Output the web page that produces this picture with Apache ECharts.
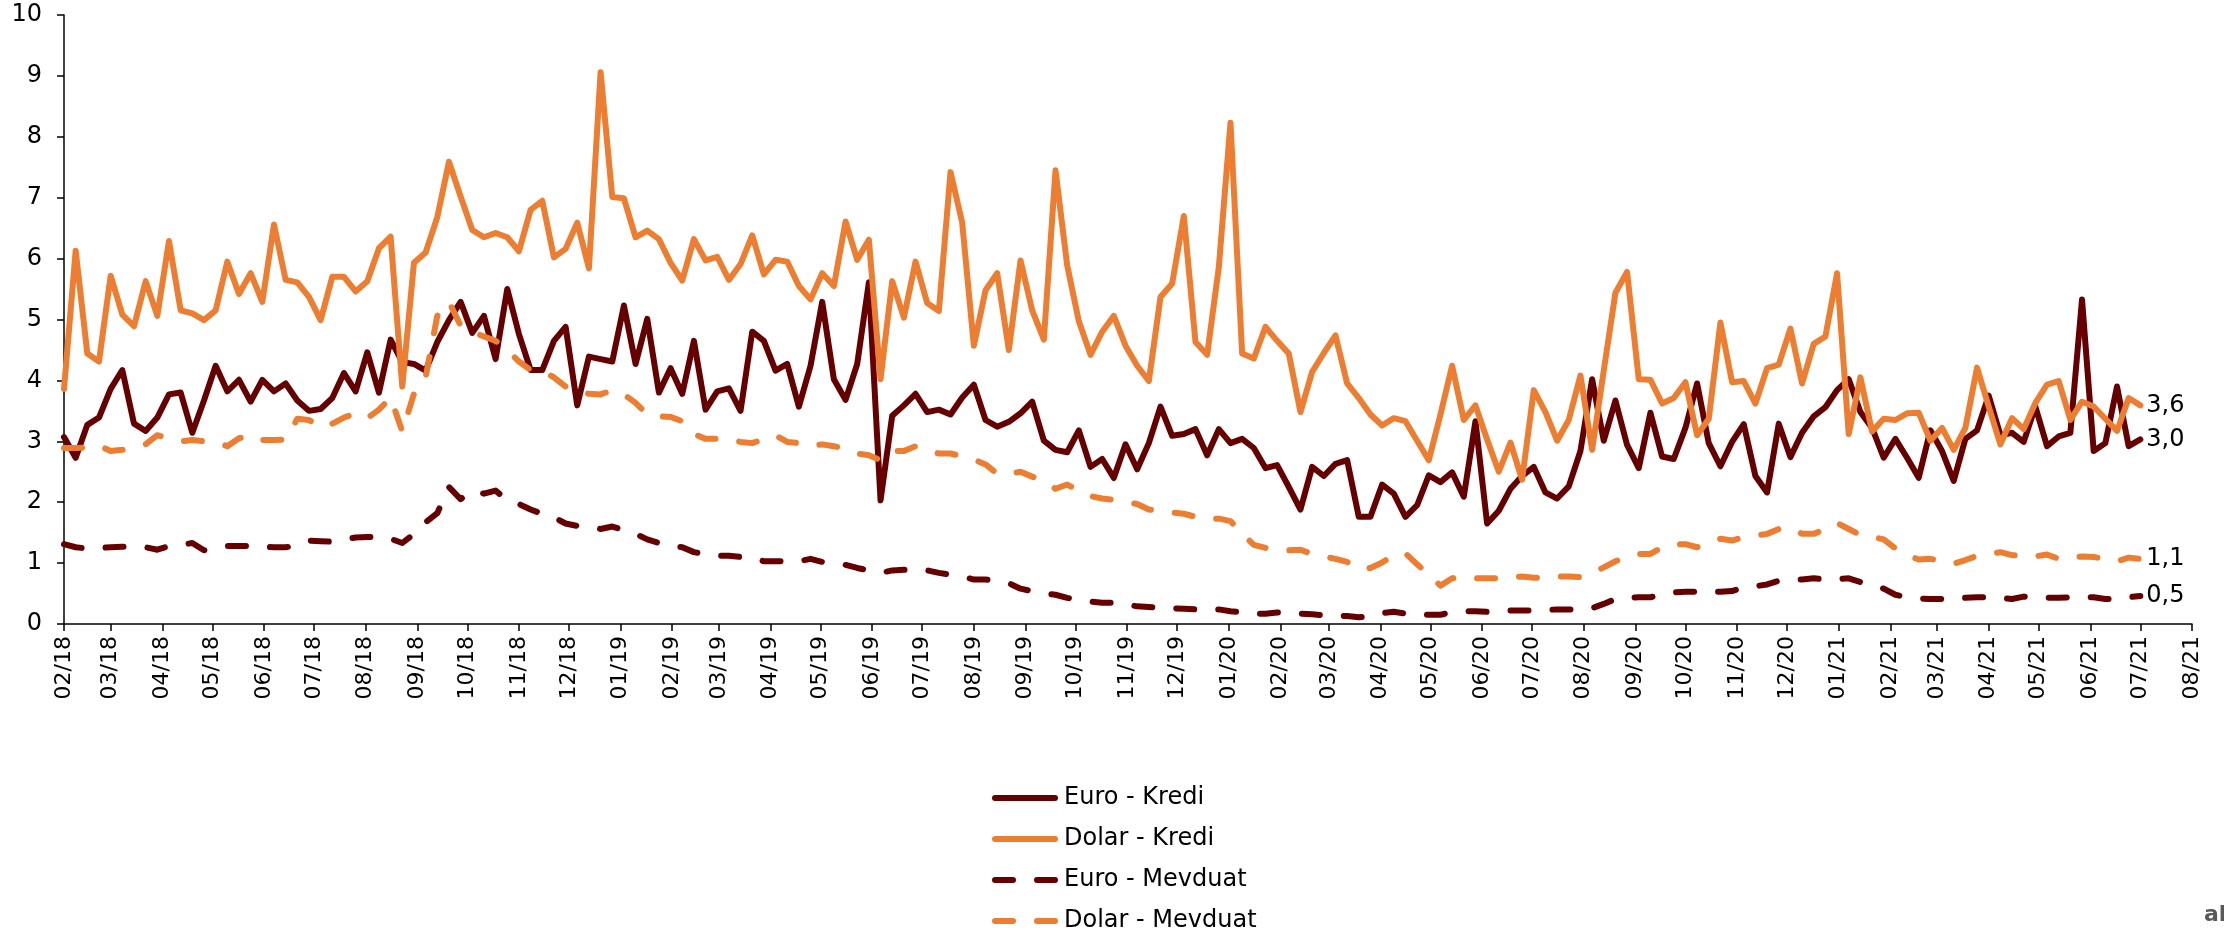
<!DOCTYPE html>
<html>
<head>
<meta charset="utf-8">
<script src="https://cdn.jsdelivr.net/npm/echarts@6/dist/echarts.min.js"></script>
<style>
html,body{margin:0;padding:0;background:#fff;}
#chart{width:2224px;height:932px;}
</style>
</head>
<body>
<div id="chart"></div>
<script>
// Weekly observations, first week 2018-02-01
const firstWeek = [2018, 1, 1];
const seriesNames = ['Euro - Kredi', 'Dolar - Kredi', 'Euro - Mevduat', 'Dolar - Mevduat'];

const euroKredi = [
3.07,2.73,3.27,3.39,3.86,4.17,3.29,3.17,3.39,3.77,3.80,3.14,3.67,4.24,3.82,4.01,3.65,4.01,3.82,3.95,
3.67,3.50,3.53,3.71,4.12,3.82,4.46,3.80,4.67,4.30,4.27,4.16,4.63,4.99,5.29,4.78,5.06,4.35,5.50,4.76,
4.17,4.17,4.65,4.88,3.59,4.39,4.35,4.31,5.23,4.27,5.01,3.80,4.20,3.78,4.65,3.52,3.82,3.87,3.50,4.80,
4.65,4.16,4.27,3.57,4.24,5.29,4.02,3.68,4.27,5.61,2.03,3.42,3.59,3.78,3.48,3.52,3.44,3.72,3.93,3.35,
3.24,3.32,3.46,3.65,3.01,2.86,2.82,3.18,2.58,2.71,2.40,2.95,2.54,2.97,3.57,3.09,3.12,3.20,2.77,3.20,
2.97,3.04,2.89,2.56,2.61,2.25,1.88,2.58,2.43,2.63,2.69,1.76,1.76,2.29,2.14,1.76,1.95,2.44,2.33,2.49,
2.09,3.33,1.65,1.86,2.22,2.43,2.58,2.16,2.06,2.26,2.84,4.02,3.01,3.67,2.94,2.56,3.47,2.75,2.71,3.22,
3.95,2.97,2.59,2.99,3.28,2.43,2.16,3.29,2.74,3.14,3.41,3.56,3.84,4.02,3.48,3.22,2.73,3.04,2.73,2.40,
3.18,2.84,2.35,3.04,3.18,3.75,3.10,3.14,2.99,3.57,2.92,3.08,3.14,5.33,2.84,2.97,3.90,2.92,3.03
];

const dolarKredi = [
3.86,6.13,4.44,4.31,5.72,5.08,4.89,5.63,5.06,6.29,5.15,5.10,4.99,5.15,5.95,5.42,5.76,5.29,6.56,5.65,
5.61,5.37,4.99,5.70,5.70,5.46,5.63,6.17,6.36,3.90,5.93,6.10,6.68,7.59,7.02,6.47,6.35,6.42,6.35,6.12,
6.80,6.95,6.02,6.16,6.59,5.84,9.06,7.01,6.99,6.35,6.46,6.32,5.93,5.64,6.32,5.97,6.03,5.65,5.91,6.38,
5.74,5.98,5.95,5.55,5.33,5.76,5.55,6.61,5.98,6.31,4.02,5.63,5.03,5.95,5.27,5.14,7.42,6.59,4.57,5.48,
5.76,4.50,5.97,5.15,4.67,7.45,5.89,4.97,4.42,4.80,5.06,4.57,4.24,3.99,5.37,5.59,6.70,4.63,4.42,5.86,
8.23,4.44,4.36,4.88,4.65,4.44,3.48,4.14,4.45,4.74,3.95,3.71,3.44,3.26,3.38,3.33,3.01,2.69,3.44,4.24,
3.35,3.59,3.03,2.50,2.98,2.37,3.84,3.48,3.01,3.35,4.08,2.86,4.16,5.44,5.78,4.02,4.01,3.62,3.71,3.97,
3.10,3.37,4.95,3.97,3.99,3.62,4.20,4.26,4.85,3.95,4.60,4.72,5.76,3.12,4.05,3.16,3.37,3.35,3.46,3.47,
3.01,3.22,2.86,3.22,4.21,3.57,2.95,3.38,3.20,3.63,3.93,3.99,3.35,3.65,3.57,3.37,3.17,3.71,3.59
];

const euroMevduat = [
1.31,1.26,1.24,1.25,1.26,1.27,1.27,1.26,1.22,1.28,1.30,1.33,1.21,1.25,1.28,1.28,1.28,1.27,1.26,1.26,
1.29,1.37,1.36,1.35,1.39,1.42,1.43,1.43,1.40,1.33,1.48,1.67,1.82,2.25,2.05,2.19,2.14,2.19,2.03,1.97,
1.88,1.81,1.75,1.65,1.61,1.60,1.56,1.60,1.54,1.48,1.39,1.33,1.28,1.26,1.18,1.15,1.12,1.12,1.10,1.09,
1.03,1.03,1.03,1.03,1.07,1.02,0.99,0.97,0.92,0.88,0.84,0.88,0.89,0.90,0.88,0.84,0.81,0.78,0.73,0.73,
0.71,0.67,0.58,0.54,0.50,0.48,0.43,0.39,0.37,0.35,0.35,0.32,0.29,0.28,0.27,0.26,0.25,0.24,0.24,0.24,
0.21,0.19,0.17,0.17,0.19,0.17,0.17,0.16,0.14,0.14,0.13,0.11,0.13,0.18,0.20,0.17,0.15,0.15,0.15,0.20,
0.21,0.21,0.20,0.20,0.22,0.22,0.22,0.23,0.24,0.24,0.24,0.26,0.33,0.41,0.43,0.44,0.44,0.48,0.52,0.53,
0.53,0.53,0.53,0.54,0.60,0.62,0.65,0.71,0.73,0.73,0.75,0.73,0.74,0.75,0.69,0.63,0.58,0.48,0.44,0.42,
0.41,0.41,0.41,0.43,0.44,0.44,0.43,0.41,0.45,0.44,0.43,0.43,0.44,0.44,0.44,0.41,0.41,0.44,0.46
];

const dolarMevduat = [
2.89,2.89,2.90,2.93,2.84,2.86,2.90,2.95,3.10,3.05,3.00,3.02,3.00,2.99,2.92,3.05,3.10,3.02,3.02,3.03,
3.37,3.35,3.23,3.29,3.39,3.46,3.38,3.52,3.72,3.16,3.78,4.05,5.06,5.29,4.90,4.80,4.72,4.65,4.50,4.31,
4.17,4.16,4.05,3.90,3.82,3.78,3.77,3.84,3.77,3.63,3.44,3.41,3.40,3.33,3.12,3.04,3.04,3.04,2.99,2.97,
3.04,3.10,2.99,2.97,2.92,2.95,2.92,2.88,2.80,2.77,2.69,2.84,2.84,2.92,2.85,2.80,2.80,2.75,2.70,2.62,
2.47,2.47,2.50,2.42,2.35,2.22,2.29,2.19,2.10,2.06,2.04,2.00,1.97,1.88,1.86,1.83,1.81,1.76,1.73,1.73,
1.69,1.48,1.30,1.25,1.22,1.21,1.22,1.15,1.11,1.07,1.02,0.90,0.92,1.01,1.13,1.16,0.98,0.81,0.63,0.75,
0.78,0.75,0.75,0.75,0.77,0.78,0.76,0.76,0.78,0.78,0.77,0.84,0.93,1.03,1.11,1.15,1.15,1.26,1.31,1.31,
1.26,1.33,1.40,1.37,1.43,1.45,1.48,1.56,1.58,1.48,1.48,1.56,1.66,1.56,1.46,1.43,1.39,1.24,1.13,1.06,
1.07,1.03,0.99,1.05,1.12,1.15,1.18,1.13,1.12,1.11,1.14,1.07,1.09,1.11,1.10,1.07,1.03,1.09,1.07
];

const yTicks = {min: 0, max: 10, interval: 1};
const xRange = {from: [2018, 1, 1], to: [2021, 7, 1]};

const FONT = 'DejaVu Sans';
const DARK = '#660000';
const ORANGE = '#ED7D31';

function weekDate(i) {
  return new Date(firstWeek[0], firstWeek[1], firstWeek[2] + 7 * i).getTime();
}
function pairs(arr) { return arr.map((v, i) => [weekDate(i), v]); }
function pad(n) { return (n < 10 ? '0' : '') + n; }
function fmtVal(v) { return v.toFixed(1).replace('.', ','); }

const chart = echarts.init(document.getElementById('chart'), null, {renderer: 'canvas'});

function mkSeries(name, data, color, dashed) {
  return {
    name: name,
    type: 'line',
    data: pairs(data),
    symbol: 'none',
    showSymbol: false,
    legendIcon: 'none',
    smooth: false,
    lineStyle: {
      color: color, width: 6,
      type: dashed ? [18, 24] : 'solid',
      cap: 'round', join: 'round'
    },
    itemStyle: {color: color},
    endLabel: {
      show: true,
      distance: 6,
      fontFamily: FONT,
      fontSize: 24,
      color: '#000',
      formatter: p => fmtVal(p.value[1])
    },
    emphasis: {disabled: true}
  };
}

chart.setOption({
  animation: false,
  backgroundColor: '#fff',
  grid: {left: 64, right: 32, top: 15, bottom: 308, containLabel: false},
  xAxis: {
    type: 'time',
    min: new Date(xRange.from[0], xRange.from[1], xRange.from[2]).getTime(),
    max: new Date(xRange.to[0], xRange.to[1], xRange.to[2]).getTime(),
    splitNumber: 42,
    axisLine: {show: true, lineStyle: {color: '#000', width: 1.5}},
    axisTick: {show: true, length: 7, lineStyle: {color: '#000', width: 1.5}},
    splitLine: {show: false},
    axisLabel: {
      rotate: 90,
      interval: 0,
      margin: 12,
      fontFamily: FONT,
      fontSize: 22,
      fontWeight: 'normal',
      color: '#000',
      hideOverlap: false,
      showMinLabel: true,
      showMaxLabel: true,
      formatter: function (v) {
        const d = new Date(v);
        return pad(d.getMonth() + 1) + '/' + String(d.getFullYear()).slice(2);
      }
    }
  },
  yAxis: {
    type: 'value',
    min: yTicks.min, max: yTicks.max, interval: yTicks.interval,
    axisLine: {show: true, lineStyle: {color: '#000', width: 1.5}},
    axisTick: {show: true, length: 7, lineStyle: {color: '#000', width: 1.5}},
    splitLine: {show: false},
    axisLabel: {margin: 22, fontFamily: FONT, fontSize: 24, color: '#000'}
  },
  legend: {
    orient: 'vertical',
    left: 987,
    top: 781,
    height: 400,
    itemWidth: 60,
    itemHeight: 22,
    itemGap: 17,
    itemStyle: {opacity: 0},
    lineStyle: {width: 6, cap: 'round'},
    textStyle: {fontFamily: FONT, fontSize: 24, lineHeight: 22, color: '#000', padding: [0, 0, 0, 4]},
    data: seriesNames
  },
  graphic: [{
    type: 'text', left: 2204, top: 904,
    style: {text: 'al', fill: '#595959', font: 'bold 22px "DejaVu Sans"'}
  }],
  series: [
    mkSeries(seriesNames[0], euroKredi, DARK, false),
    mkSeries(seriesNames[1], dolarKredi, ORANGE, false),
    mkSeries(seriesNames[2], euroMevduat, DARK, true),
    mkSeries(seriesNames[3], dolarMevduat, ORANGE, true)
  ]
});
</script>
</body>
</html>
